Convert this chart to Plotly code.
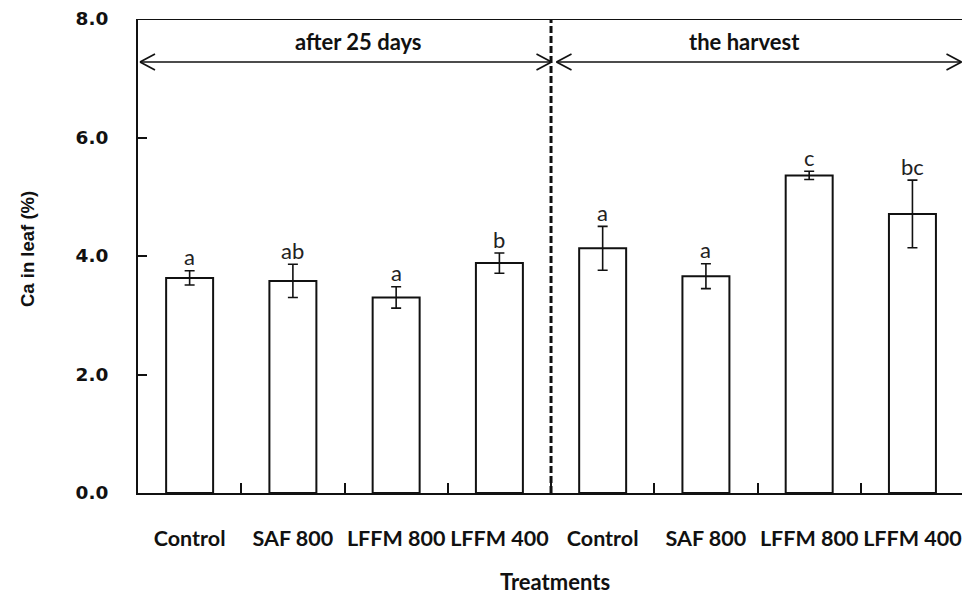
import plotly.graph_objects as go

# ---- data ----
categories = ["Control", "SAF 800", "LFFM 800", "LFFM 400",
              "Control", "SAF 800", "LFFM 800", "LFFM 400"]
ca_values = [3.63, 3.58, 3.30, 3.88, 4.13, 3.66, 5.36, 4.71]
ca_errors = [0.12, 0.28, 0.18, 0.17, 0.37, 0.21, 0.07, 0.57]
letters = ["a", "ab", "a", "b", "a", "a", "c", "bc"]
period_labels = ["after 25 days", "the harvest"]
y_ticks = [0, 2, 4, 6, 8]

x_pos = list(range(len(categories)))

W, H = 962, 594
L, R, T, B = 138, 0, 19, 101
x_range = [-0.5, 7.48]
y_range = [0, 8]
plot_w = W - L - R
plot_h = H - T - B
px_per_x = plot_w / (x_range[1] - x_range[0])
px_per_y = plot_h / (y_range[1] - y_range[0])


def px_to_x(px):
    return x_range[0] + (px - L) / px_per_x


def py_to_y(py):
    return y_range[1] - (py - T) / px_per_y


def px_to_paper(px):
    return (px - L) / plot_w


def py_to_paper(py):
    return (H - B - py) / plot_h


ink = "#111111"

fig = go.Figure()
fig.add_trace(go.Bar(
    x=x_pos, y=ca_values, width=0.455,
    marker=dict(color="white", line=dict(color=ink, width=2)),
    error_y=dict(type="data", array=ca_errors, visible=True,
                 color=ink, thickness=1.6, width=5),
    showlegend=False, hoverinfo="skip",
))

annotations = []
for xi, v, e, lt in zip(x_pos, ca_values, ca_errors, letters):
    annotations.append(dict(
        x=xi, y=v + e, xref="x", yref="y", text=lt, showarrow=False,
        xanchor="center", yanchor="middle", yshift=14,
        font=dict(family="Lato", size=22, color="#222222"),
    ))

# period labels
for lbl, cx in zip(period_labels, (358, 744)):
    annotations.append(dict(x=px_to_paper(cx), y=py_to_paper(42),
                            xref="paper", yref="paper",
                            xanchor="center", yanchor="middle",
                            text=lbl, showarrow=False,
                            font=dict(family="Lato", size=22, color=ink, weight="bold")))

# axis titles
annotations.append(dict(x=px_to_paper(28), y=py_to_paper(249), xref="paper", yref="paper",
                        text="Ca in leaf (%)", textangle=-90,
                        showarrow=False, xanchor="center", yanchor="middle",
                        font=dict(family="Liberation Sans", size=18.5, color=ink, weight="bold")))
annotations.append(dict(x=px_to_paper(555), y=py_to_paper(581), xref="paper", yref="paper",
                        text="Treatments", showarrow=False,
                        xanchor="center", yanchor="middle",
                        font=dict(family="Lato", size=22, color=ink, weight="bold")))

shapes = []
# top border
shapes.append(dict(type="line", xref="paper", yref="y", x0=0, x1=1, y0=8, y1=8,
                   line=dict(color=ink, width=2)))
# dashed separator
sep_x = 3.5
shapes.append(dict(type="line", xref="x", yref="y", x0=sep_x, x1=sep_x,
                   y0=0, y1=py_to_y(16),
                   line=dict(color=ink, width=3, dash="7px,3px")))
# arrows
arrow_y = py_to_y(62)
segments = [(px_to_x(140), px_to_x(551.5)), (px_to_x(556.5), px_to_x(961.5))]
for a, b in segments:
    shapes.append(dict(type="line", xref="x", yref="y", x0=a, x1=b,
                       y0=arrow_y, y1=arrow_y, line=dict(color=ink, width=1.6)))
    for tip, d in ((a, 1), (b, -1)):
        for s in (1, -1):
            shapes.append(dict(type="line", xref="x", yref="y",
                               xsizemode="pixel", xanchor=tip,
                               ysizemode="pixel", yanchor=arrow_y,
                               x0=0, x1=15 * d, y0=0, y1=8 * s,
                               line=dict(color=ink, width=1.6)))

fig.update_layout(
    width=W, height=H,
    margin=dict(l=L, r=R, t=T, b=B),
    paper_bgcolor="white", plot_bgcolor="white",
    annotations=annotations, shapes=shapes,
    xaxis=dict(
        range=x_range, tickmode="array", tickvals=x_pos, ticktext=categories,
        ticks="", showgrid=False, zeroline=False,
        showline=True, linecolor=ink, linewidth=2,
        tickfont=dict(family="Lato", size=21.5, color=ink, weight="bold"),
        ticklabelstandoff=25,
        minor=dict(tickmode="array", tickvals=[i + 0.5 for i in range(7)],
                   ticks="inside", ticklen=10, tickwidth=1.6, tickcolor=ink),
    ),
    yaxis=dict(
        range=y_range, tickmode="array", tickvals=y_ticks,
        ticktext=[f"{t:.1f}" for t in y_ticks],
        ticks="inside", ticklen=9, tickwidth=1.6, tickcolor=ink,
        showgrid=False, zeroline=False,
        showline=True, linecolor=ink, linewidth=2,
        tickfont=dict(family="DejaVu Sans", size=18.5, color=ink, weight="bold"),
        ticklabelstandoff=24,
    ),
)

fig.write_html("out.html")
